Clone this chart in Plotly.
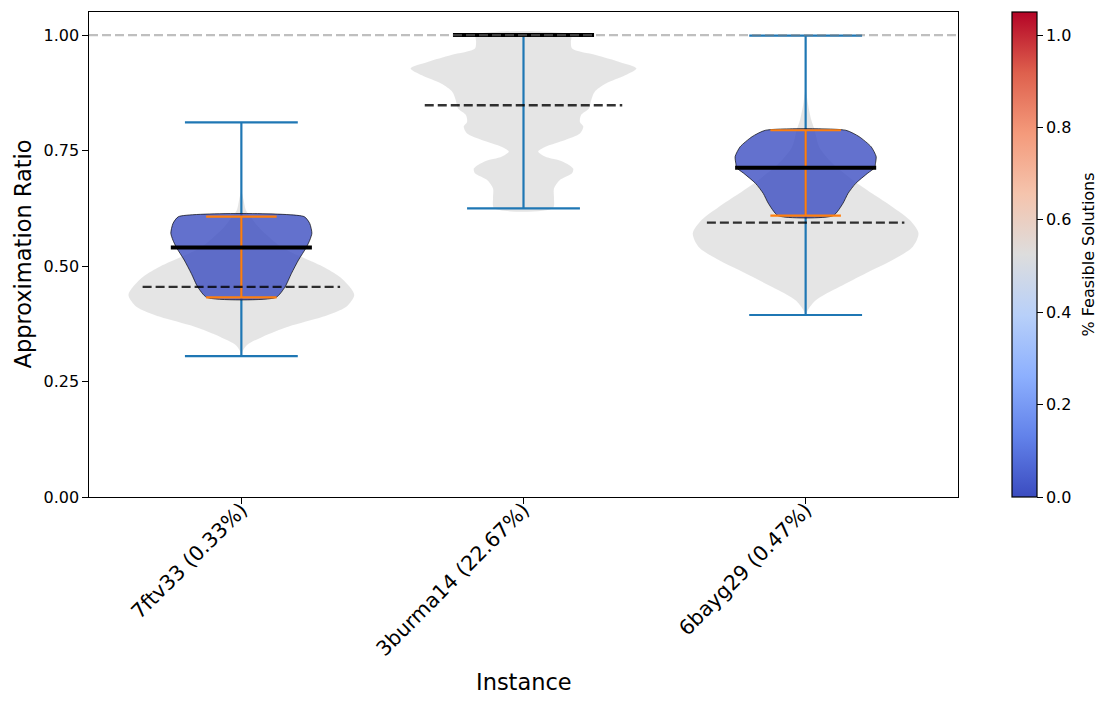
import plotly.graph_objects as go

# ---------------- data ----------------
instances = ["7ftv33", "3burma14", "6bayg29"]
pct_feasible = [0.33, 22.67, 0.47]          # % feasible solutions

# all-solution distributions: ratio values (top -> bottom) and relative KDE widths
all_vals_0 = [0.664, 0.643, 0.621, 0.607, 0.585, 0.564, 0.542, 0.520, 0.499, 0.477,
              0.455, 0.437, 0.412, 0.390, 0.369, 0.347, 0.329, 0.315, 0.305]
all_dens_0 = [0.00, 0.02, 0.04, 0.08, 0.15, 0.24, 0.35, 0.53, 0.72, 0.87,
              0.96, 1.00, 0.93, 0.72, 0.42, 0.19, 0.05, 0.01, 0.00]
all_vals_1 = [1.000, 0.986, 0.971, 0.957, 0.942, 0.928, 0.913, 0.895, 0.877, 0.859,
              0.841, 0.827, 0.812, 0.802, 0.787, 0.773, 0.758, 0.748, 0.737, 0.726,
              0.711, 0.701, 0.686, 0.668, 0.647, 0.625]
all_dens_1 = [0.42, 0.42, 0.43, 0.64, 0.85, 1.00, 0.90, 0.73, 0.63, 0.60,
              0.58, 0.51, 0.50, 0.53, 0.50, 0.37, 0.19, 0.13, 0.19, 0.35,
              0.44, 0.43, 0.32, 0.27, 0.27, 0.26]
all_vals_2 = [0.888, 0.852, 0.816, 0.794, 0.758, 0.722, 0.686, 0.657, 0.628, 0.600,
              0.571, 0.542, 0.513, 0.484, 0.455, 0.426, 0.405, 0.394]
all_dens_2 = [0.00, 0.02, 0.05, 0.08, 0.12, 0.24, 0.42, 0.59, 0.77, 0.92,
              1.00, 0.95, 0.77, 0.53, 0.30, 0.09, 0.02, 0.00]

# feasible-solution distributions
feas_vals_0 = [0.607, 0.592, 0.571, 0.556, 0.540, 0.513, 0.484, 0.455, 0.432]
feas_dens_0 = [0.89, 0.97, 1.00, 0.97, 0.92, 0.81, 0.71, 0.62, 0.49]
feas_vals_1 = []          # all feasible solutions at 1.0 (degenerate)
feas_dens_1 = []
feas_vals_2 = [0.794, 0.780, 0.758, 0.737, 0.722, 0.713, 0.701, 0.679, 0.657, 0.636, 0.609]
feas_dens_2 = [0.57, 0.76, 0.93, 1.00, 0.99, 0.98, 0.88, 0.71, 0.60, 0.53, 0.39]

all_min = [0.305, 0.625, 0.394]
all_max = [0.811, 1.000, 0.999]
all_median = [0.455, 0.848, 0.594]
feas_min = [0.432, 1.000, 0.609]
feas_max = [0.607, 1.000, 0.794]
feas_median = [0.540, 1.000, 0.713]

optimal_ratio = 1.0
y_ticks = [0.0, 0.25, 0.5, 0.75, 1.0]
cbar_ticks = [0.0, 0.2, 0.4, 0.6, 0.8, 1.0]

all_profiles = [(all_vals_0, all_dens_0), (all_vals_1, all_dens_1), (all_vals_2, all_dens_2)]
feas_profiles = [(feas_vals_0, feas_dens_0), (feas_vals_1, feas_dens_1), (feas_vals_2, feas_dens_2)]

# ---------------- style ----------------
FONT = "DejaVu Sans"
ALL_HALF = 0.40
FEAS_HALF = 0.25
COOLWARM = [
    [0.000, (59, 76, 192)], [0.125, (98, 130, 234)], [0.250, (141, 176, 254)],
    [0.375, (184, 208, 249)], [0.500, (221, 221, 221)], [0.625, (245, 196, 173)],
    [0.750, (244, 154, 123)], [0.875, (222, 96, 77)], [1.000, (180, 4, 38)],
]
CMAX = 1.05


def coolwarm(v, alpha):
    v = min(max(v, 0.0), 1.0)
    for (p0, c0), (p1, c1) in zip(COOLWARM[:-1], COOLWARM[1:]):
        if p0 <= v <= p1:
            t = (v - p0) / (p1 - p0)
            c = [round(a + (b - a) * t) for a, b in zip(c0, c1)]
            return f"rgba({c[0]},{c[1]},{c[2]},{alpha})"
    return "rgba(0,0,0,1)"


def outline(pos, vals, dens, half):
    xs = [pos + half * d for d in dens]
    ys = list(vals)
    xs += [pos - half * d for d in reversed(dens)]
    ys += list(reversed(vals))
    xs.append(xs[0])
    ys.append(ys[0])
    return xs, ys


fig = go.Figure()
positions = list(range(len(instances)))


def seg(x0, x1, y0, y1, color, width, dash=None):
    fig.add_trace(go.Scatter(x=[x0, x1], y=[y0, y1], mode="lines",
                             line=dict(color=color, width=width, dash=dash),
                             showlegend=False, hoverinfo="skip"))


# gray (all solutions) violins
for pos, (vals, dens) in zip(positions, all_profiles):
    xs, ys = outline(pos, vals, dens, ALL_HALF)
    fig.add_trace(go.Scatter(x=xs, y=ys, mode="lines", fill="toself",
                             fillcolor="rgba(211,211,211,0.6)",
                             line=dict(width=0, shape="spline", smoothing=0.8),
                             showlegend=False, hoverinfo="skip"))

# extrema of all solutions (blue)
C0 = "#1f77b4"
for pos, lo, hi in zip(positions, all_min, all_max):
    seg(pos, pos, lo, hi, C0, 2.2)
    seg(pos - ALL_HALF / 2, pos + ALL_HALF / 2, lo, lo, C0, 2.2)
    seg(pos - ALL_HALF / 2, pos + ALL_HALF / 2, hi, hi, C0, 2.2)

# feasible violins coloured by % feasible
for pos, (vals, dens), pct in zip(positions, feas_profiles, pct_feasible):
    if not vals:
        continue
    xs, ys = outline(pos, vals, dens, FEAS_HALF)
    fig.add_trace(go.Scatter(x=xs, y=ys, mode="lines", fill="toself",
                             fillcolor=coolwarm(pct / 100 / CMAX, 0.8),
                             line=dict(color="rgba(0,0,0,0.85)", width=0.8,
                                       shape="spline", smoothing=0.6),
                             showlegend=False, hoverinfo="skip"))

# extrema of feasible solutions (orange)
C1 = "#ff7f0e"
for pos, lo, hi in zip(positions, feas_min, feas_max):
    seg(pos, pos, lo, hi, C1, 2.2)
    seg(pos - FEAS_HALF / 2, pos + FEAS_HALF / 2, lo, lo, C1, 2.2)
    seg(pos - FEAS_HALF / 2, pos + FEAS_HALF / 2, hi, hi, C1, 2.2)

# feasible medians (solid black)
for pos, m in zip(positions, feas_median):
    seg(pos - 0.25, pos + 0.25, m, m, "black", 4)

# overall medians (dashed)
for pos, m in zip(positions, all_median):
    seg(pos - 0.35, pos + 0.35, m, m, "rgba(0,0,0,0.8)", 2.4, "9px,4px")

# colour bar carrier
fig.add_trace(go.Scatter(
    x=[None], y=[None], mode="markers", showlegend=False, hoverinfo="skip",
    marker=dict(color=[0], cmin=0, cmax=CMAX, showscale=True,
                colorscale=[[p, f"rgb{c}"] for p, c in COOLWARM],
                colorbar=dict(
                    x=(1012 - 89) / 869, xanchor="left", xpad=0, xref="paper",
                    y=0.5, yanchor="middle", ypad=0, len=1, lenmode="fraction",
                    thickness=25, outlinewidth=1.2, outlinecolor="black",
                    ticks="outside", ticklen=5.6, tickwidth=1.2, tickcolor="black",
                    tickvals=cbar_ticks, tickformat=".1f",
                    tickfont=dict(family=FONT, size=16, color="black"),
                ))))

fig.add_shape(type="line", xref="paper", x0=0, x1=1, yref="y",
              y0=optimal_ratio, y1=optimal_ratio, layer="above",
              line=dict(color="rgba(128,128,128,0.5)", width=2.4, dash="9px,4px"))

tick_labels = [f"{n} ({p:.2f}%)" for n, p in zip(instances, pct_feasible)]

fig.update_layout(
    width=1111, height=707,
    margin=dict(l=89, r=153, t=12, b=210),
    plot_bgcolor="white", paper_bgcolor="white",
    font=dict(family=FONT, color="black"),
    xaxis=dict(range=[-0.54, 2.54], tickvals=positions, ticktext=tick_labels,
               tickangle=-45, tickfont=dict(size=20.5, family=FONT),
               ticklabelstandoff=-14,
               ticks="outside", ticklen=5.6, tickwidth=1.2, tickcolor="black",
               showline=True, linecolor="black", linewidth=1.2, mirror=True,
               showgrid=False, zeroline=False),
    yaxis=dict(range=[0, 1.05], tickvals=y_ticks, tickformat=".2f",
               tickfont=dict(size=16, family=FONT),
               ticks="outside", ticklen=5.6, tickwidth=1.2, tickcolor="black",
               showline=True, linecolor="black", linewidth=1.2, mirror=True,
               showgrid=False, zeroline=False),
    annotations=[
        dict(text="Approximation Ratio", xref="paper", yref="paper",
             x=(22 - 89) / 869, y=0.5, textangle=-90, showarrow=False,
             xanchor="center", yanchor="middle",
             font=dict(size=22.5, family=FONT, color="black")),
        dict(text="Instance", xref="paper", yref="paper",
             x=0.5, y=(497 - 682) / 485, showarrow=False,
             xanchor="center", yanchor="middle",
             font=dict(size=22.5, family=FONT, color="black")),
        dict(text="% Feasible Solutions", xref="paper", yref="paper",
             x=(1088 - 89) / 869, y=0.5, textangle=-90, showarrow=False,
             xanchor="center", yanchor="middle",
             font=dict(size=16, family=FONT, color="black")),
    ],
)

fig.write_html("out.html")
